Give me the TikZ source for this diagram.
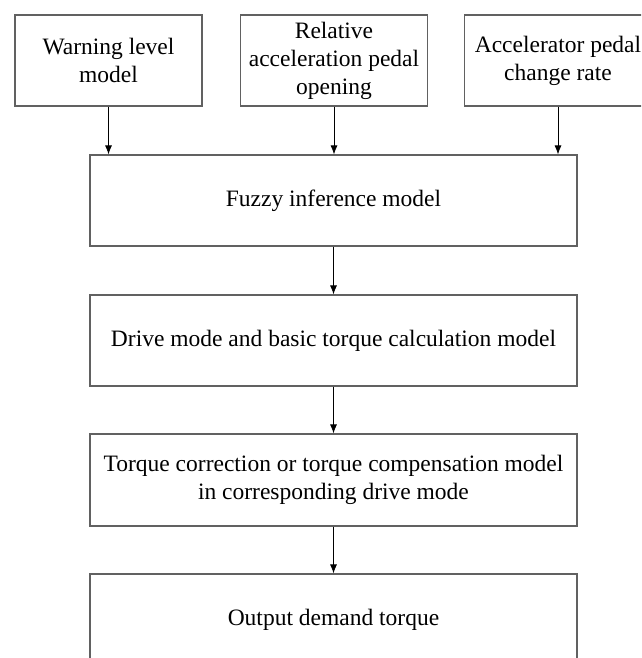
\documentclass[tikz,border=0pt]{standalone}
\usepackage{fontspec}
\setmainfont{Liberation Serif}
\usetikzlibrary{arrows.meta}
\begin{document}
\begin{tikzpicture}[x=1pt,y=-1pt,
  box/.style={draw=black!62,line width=1.2pt,fill=white,inner sep=0pt,align=center,
    font=\fontsize{23.5}{28}\selectfont},
  conn/.style={draw=black,line width=0.8pt,-{Latex[length=9pt,width=7pt]}}]
\useasboundingbox (0,0) rectangle (641,658);
\clip (0,0) rectangle (641,658);
\node[box,minimum width=187pt,minimum height=91pt] (w) at (108.5,60.5) {Warning level\\model};
\node[box,minimum width=187pt,minimum height=91pt] (r) at (334,60.5) {Relative\\acceleration pedal\\opening};
\node[box,minimum width=187pt,minimum height=91pt] (a) at (558,60.5) {Accelerator pedal\\change rate};
\node[box,minimum width=487pt,minimum height=91pt] (f) at (333.5,200.5) {Fuzzy inference model};
\node[box,minimum width=487pt,minimum height=91pt] (d) at (333.5,340.5) {Drive mode and basic torque calculation model};
\node[box,minimum width=487pt,minimum height=92pt] (t) at (333.5,480) {Torque correction or torque compensation model\\in corresponding drive mode};
\node[box,minimum width=487pt,minimum height=91pt] (o) at (333.5,619.5) {Output demand torque};
\draw[conn] (w.south) -- (w.south |- f.north);
\draw[conn] (r.south) -- (r.south |- f.north);
\draw[conn] (a.south) -- (a.south |- f.north);
\draw[conn] (f.south) -- (d.north);
\draw[conn] (d.south) -- (t.north);
\draw[conn] (t.south) -- (o.north);
\end{tikzpicture}
\end{document}
